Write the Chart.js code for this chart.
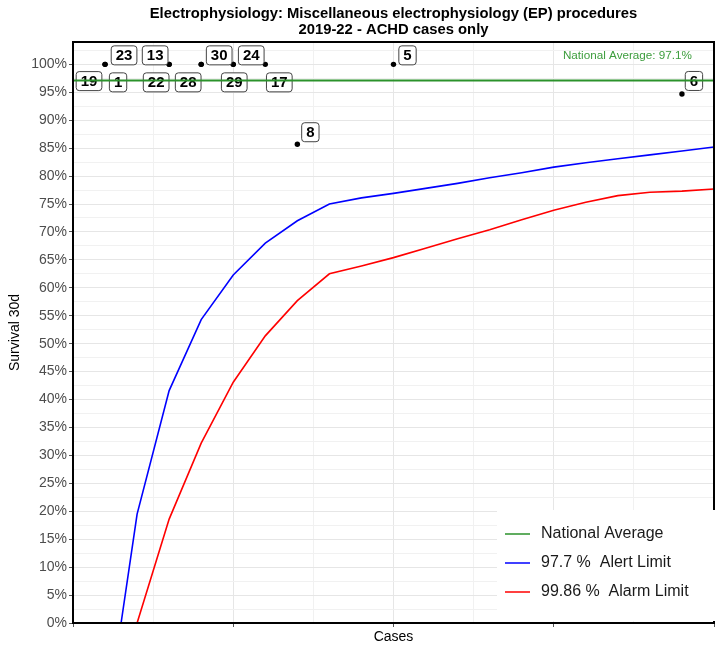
<!DOCTYPE html>
<html><head><meta charset="utf-8">
<script src="https://cdn.jsdelivr.net/npm/chart.js@4.4.1/dist/chart.umd.min.js"></script>
<style>html,body{margin:0;padding:0;background:#fff;overflow:hidden}#wrap{width:718px;height:647px;position:relative}</style>
</head><body><div id="wrap"><canvas id="c" width="718" height="647"></canvas></div>
<script>
// ---- data ----
const titleLines = ['Electrophysiology: Miscellaneous electrophysiology (EP) procedures', '2019-22 - ACHD cases only'];
const xAxisTitle = 'Cases';
const yAxisTitle = 'Survival 30d';
const hospitalIds = ['19', '23', '1', '13', '22', '30', '28', '24', '29', '17', '5', '8', '6'];
const hospitalCases = [1, 2, 2, 6, 6, 8, 8, 10, 10, 12, 20, 14, 38];
const hospitalSurvival = [97, 100, 100, 100, 100, 100, 100, 100, 100, 100, 100, 85.7, 94.7];
const alertCases = [3, 4, 6, 8, 10, 12, 14, 16, 18, 20, 22, 24, 26, 28, 30, 32, 34, 36, 38, 40];
const alertLimit = [0, 19.5, 41.6, 54.3, 62.3, 68.0, 72.0, 75.0, 76.1, 76.9, 77.8, 78.7, 79.7, 80.6, 81.6, 82.4, 83.1, 83.8, 84.5, 85.2];
const alarmCases = [4, 6, 8, 10, 12, 14, 16, 18, 20, 22, 24, 26, 28, 30, 32, 34, 36, 38, 40];
const alarmLimit = [0, 18.6, 32.2, 43.1, 51.4, 57.7, 62.5, 63.9, 65.4, 67.1, 68.8, 70.4, 72.2, 73.9, 75.3, 76.5, 77.1, 77.3, 77.7];
const nationalAverage = 97.1;
const seriesNames = ['National Average', '97.7 %  Alert Limit', '99.86 %  Alarm Limit'];
const xRange = [0, 40];
const yRange = [0, 104];
const yTickValues = [0, 5, 10, 15, 20, 25, 30, 35, 40, 45, 50, 55, 60, 65, 70, 75, 80, 85, 90, 95, 100];

// ---- label placement (pixel offsets from each point) ----
const labelOffsets = [[0,0],[19,-9],[13,18],[-14,-9],[-13,18],[18,-9],[-13,18],[18,-9],[1,18],[14,18],[14,-9],[13,-12],[12,-13]];

const GREEN = '#2b922b', BLUE = '#0000ff', RED = '#ff0000';
const FONT = '"Liberation Sans", Arial, sans-serif';

function pairs(xs, ys) { return xs.map((x, i) => ({x: x, y: ys[i]})); }

const minorTicks = [];
for (let v = yRange[0]; v < yRange[1]; v += 2.5) minorTicks.push(v);
const xTicks = [];
for (let v = xRange[0]; v <= xRange[1]; v += 5) xTicks.push(v);

const decorPlugin = {
  id: 'decor',
  afterDatasetDraw(chart, args) {
    if (args.index !== 1) return;
    const ctx = chart.ctx;
    const meta = chart.getDatasetMeta(1);
    ctx.save();
    ctx.font = 'bold 15px ' + FONT;
    ctx.textAlign = 'center';
    ctx.textBaseline = 'middle';
    meta.data.forEach((pt, i) => {
      const cx = pt.x + labelOffsets[i][0], cy = pt.y + labelOffsets[i][1];
      const w = ctx.measureText(hospitalIds[i]).width + 9, h = 19;
      ctx.beginPath();
      ctx.roundRect(cx - w / 2, cy - h / 2, w, h, 3);
      ctx.fillStyle = '#fff';
      ctx.fill();
      ctx.lineWidth = 1;
      ctx.strokeStyle = '#444';
      ctx.stroke();
      ctx.fillStyle = '#000';
      ctx.fillText(hospitalIds[i], cx, cy + 1);
    });
    ctx.restore();
  },
  afterDraw(chart) {
    const ctx = chart.ctx, a = chart.chartArea;
    ctx.save();
    // panel border
    ctx.strokeStyle = '#000';
    ctx.lineWidth = 2;
    ctx.strokeRect(a.left, a.top, a.right - a.left, a.bottom - a.top);
    // title
    const cx = (a.left + a.right) / 2;
    ctx.fillStyle = '#000';
    ctx.textAlign = 'center';
    ctx.textBaseline = 'middle';
    ctx.font = 'bold 14.8px ' + FONT;
    ctx.fillText(titleLines[0], cx, 14);
    ctx.fillText(titleLines[1], cx, 30);
    // axis titles
    ctx.font = '14px ' + FONT;
    ctx.fillStyle = '#000';
    ctx.fillText(xAxisTitle, cx, 637);
    ctx.save();
    ctx.translate(15, (a.top + a.bottom) / 2);
    ctx.rotate(-Math.PI / 2);
    ctx.fillText(yAxisTitle, 0, 0);
    ctx.restore();
    // national average text
    ctx.font = '11.7px ' + FONT;
    ctx.fillStyle = '#3d9d3d';
    ctx.textAlign = 'right';
    ctx.fillText('National Average: ' + nationalAverage + '%', 692, 56);
    // legend
    const lx = 497, ly = 510;
    ctx.fillStyle = '#fff';
    ctx.fillRect(lx, ly, 720 - lx, 621 - ly);
    const colors = [GREEN, BLUE, RED];
    ctx.font = '16px ' + FONT;
    ctx.textAlign = 'left';
    seriesNames.forEach((name, i) => {
      const y = 534 + i * 29;
      ctx.strokeStyle = colors[i];
      ctx.lineWidth = 1.5;
      ctx.beginPath();
      ctx.moveTo(505, y);
      ctx.lineTo(530, y);
      ctx.stroke();
      ctx.fillStyle = '#1a1a1a';
      ctx.fillText(name, 541, y);
    });
    ctx.restore();
  }
};

new Chart(document.getElementById('c'), {
  type: 'scatter',
  data: {
    datasets: [
      { label: seriesNames[0], type: 'line', data: [{x: xRange[0], y: nationalAverage}, {x: xRange[1], y: nationalAverage}],
        borderColor: GREEN, borderWidth: 2, pointRadius: 0, order: 0 },
      { label: 'Hospitals', data: pairs(hospitalCases, hospitalSurvival), backgroundColor: '#000', borderColor: '#000',
        pointRadius: 2.7, borderWidth: 0, order: 1 },
      { label: seriesNames[1], type: 'line', data: pairs(alertCases, alertLimit), borderColor: BLUE, borderWidth: 1.6,
        pointRadius: 0, tension: 0, order: 2 },
      { label: seriesNames[2], type: 'line', data: pairs(alarmCases, alarmLimit), borderColor: RED, borderWidth: 1.6,
        pointRadius: 0, tension: 0, order: 3 }
    ]
  },
  options: {
    responsive: false,
    animation: false,
    devicePixelRatio: 1,
    layout: { padding: { top: 42, right: 1, left: 0, bottom: 0 } },
    plugins: { legend: { display: false }, tooltip: { enabled: false } },
    scales: {
      x: {
        type: 'linear', min: xRange[0], max: xRange[1],
        afterBuildTicks: s => { s.ticks = xTicks.map(v => ({value: v})); },
        afterFit: s => { s.height = 24; },
        ticks: { callback: () => '', font: { size: 1 } },
        grid: { color: c => (c.tick && c.tick.value % 10 === 0) ? '#e6e6e6' : '#f1f1f1', lineWidth: 1,
                tickLength: 4, tickColor: c => (c.tick && c.tick.value % 10 === 0) ? '#555' : 'rgba(0,0,0,0)' },
        border: { display: false }
      },
      y: {
        type: 'linear', min: yRange[0], max: yRange[1],
        afterBuildTicks: s => { s.ticks = minorTicks.map(v => ({value: v})); },
        afterFit: s => { s.width = 73; },
        ticks: { callback: v => yTickValues.includes(v) ? v + '%' : '', color: '#4d4d4d', font: { size: 14, family: FONT }, padding: 2, autoSkip: false },
        grid: { color: c => (c.tick && c.tick.value % 5 === 0) ? '#e6e6e6' : '#f1f1f1', lineWidth: 1,
                tickLength: 4, tickColor: c => (c.tick && c.tick.value % 5 === 0) ? '#555' : 'rgba(0,0,0,0)' },
        border: { display: false }
      }
    }
  },
  plugins: [decorPlugin]
});
</script>
</body></html>
